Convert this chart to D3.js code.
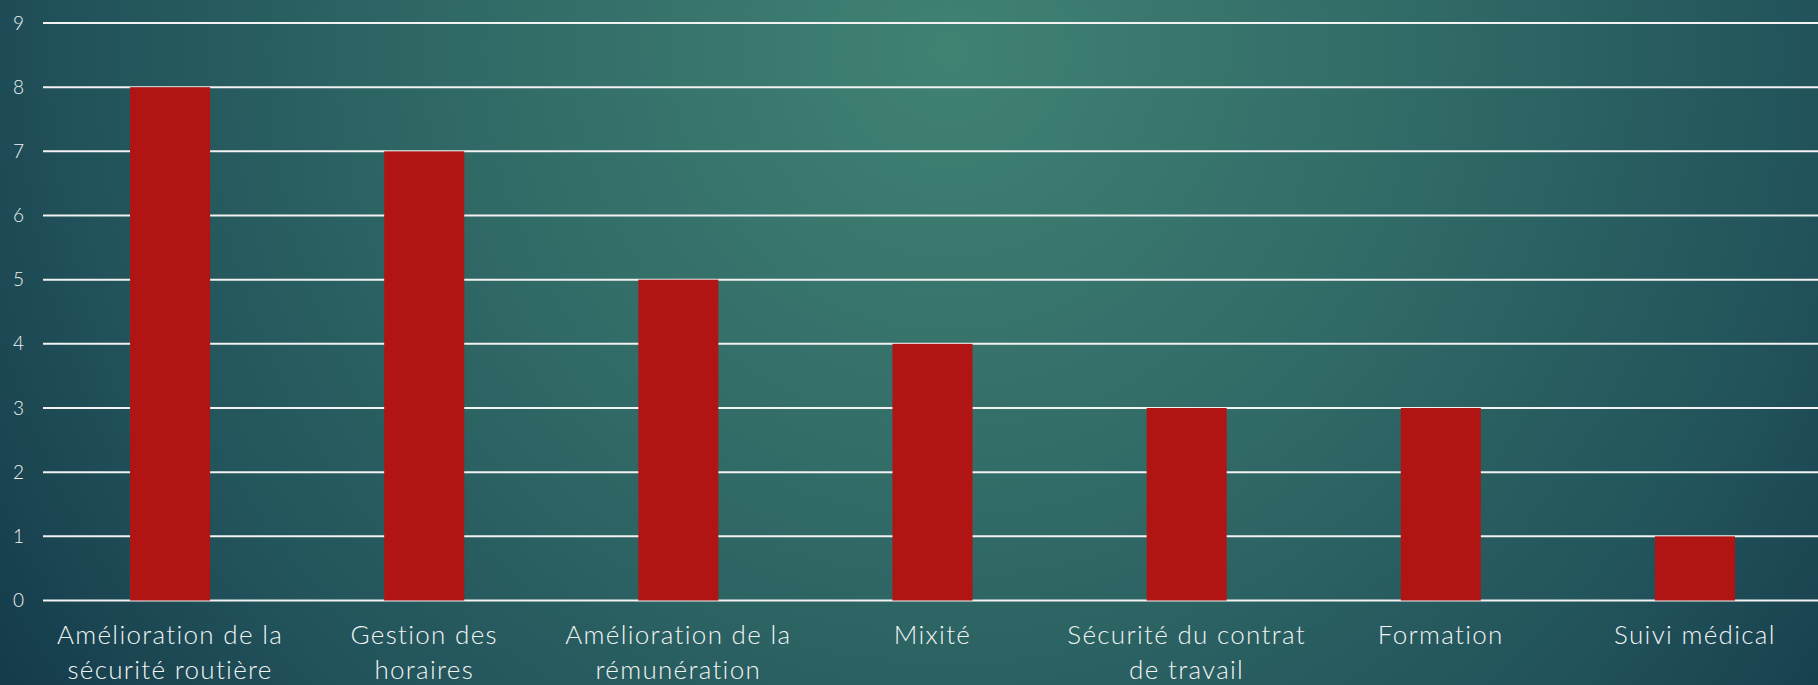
<!DOCTYPE html>
<html><head><meta charset="utf-8">
<script src="https://cdn.jsdelivr.net/npm/d3@7"></script>
<style>html,body{margin:0;padding:0;overflow:hidden;background:#1d4a55}</style>
</head><body>
<script>
const categories = [
  ["Amélioration de la", "sécurité routière"],
  ["Gestion des", "horaires"],
  ["Amélioration de la", "rémunération"],
  ["Mixité"],
  ["Sécurité du contrat", "de travail"],
  ["Formation"],
  ["Suivi médical"]
];
const values = [8, 7, 5, 4, 3, 3, 1];
const yTicks = [0, 1, 2, 3, 4, 5, 6, 7, 8, 9];

const W = 1818, H = 685;
const svg = d3.select("body").append("svg").attr("width", W).attr("height", H);
const defs = svg.append("defs");
const rg = defs.append("radialGradient").attr("id", "bg")
  .attr("gradientUnits", "userSpaceOnUse")
  .attr("cx", 950).attr("cy", 50).attr("r", 1150);
rg.append("stop").attr("offset", "0%").attr("stop-color", "#418273");
rg.append("stop").attr("offset", "40%").attr("stop-color", "#316b67");
rg.append("stop").attr("offset", "75%").attr("stop-color", "#22535b");
rg.append("stop").attr("offset", "100%").attr("stop-color", "#143a4a");
svg.append("rect").attr("width", W).attr("height", H).attr("fill", "url(#bg)");

const x0 = 43, x1 = 1822;
const x = d3.scaleBand().domain(d3.range(categories.length)).range([x0, x1])
  .paddingInner(0.685).paddingOuter(0.3425);
const y = d3.scaleLinear().domain([0, 9]).range([600.5, 23]);

const font = "'Lato', 'Noto Sans', sans-serif";

// gridlines
svg.append("g").selectAll("line").data(yTicks).join("line")
  .attr("x1", x0).attr("x2", W)
  .attr("y1", d => y(d)).attr("y2", d => y(d))
  .attr("stroke", "#f2f2f2").attr("stroke-width", 2);

// y labels
svg.append("g").selectAll("text").data(yTicks).join("text")
  .attr("x", 24).attr("y", d => y(d)).attr("dy", "0.35em")
  .attr("text-anchor", "end").attr("fill", "#eef2f2")
  .attr("font-family", font).attr("font-size", 19).attr("font-weight", 300)
  .text(d => d);

// bars
svg.append("g").selectAll("rect").data(values).join("rect")
  .attr("x", (d, i) => x(i)).attr("width", x.bandwidth())
  .attr("y", d => y(d)).attr("height", d => y(0) - y(d))
  .attr("fill", "#b01514");

// category labels
const lab = svg.append("g").selectAll("text").data(categories).join("text")
  .attr("x", (d, i) => x(i) + x.bandwidth() / 2)
  .attr("y", 644)
  .attr("text-anchor", "middle").attr("fill", "#f2f4f4")
  .attr("font-family", font).attr("font-size", 26).attr("font-weight", 300)
  .attr("letter-spacing", 1.3);
lab.selectAll("tspan").data(d => d).join("tspan")
  .attr("x", function () { return this.parentNode.getAttribute("x"); })
  .attr("dy", (d, i) => i === 0 ? 0 : 35)
  .text(d => d);
</script>
</body></html>
